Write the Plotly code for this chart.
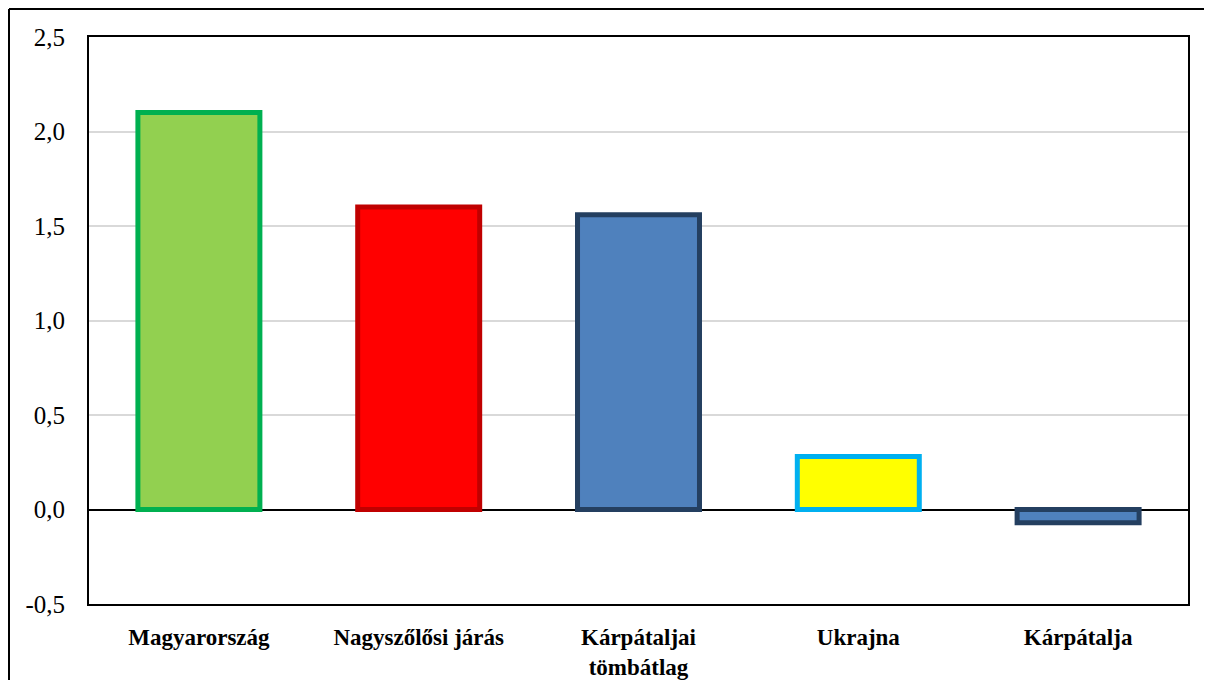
import plotly.graph_objects as go

categories = ["Magyarország", "Nagyszőlősi járás", "Kárpátaljai<br>tömbátlag", "Ukrajna", "Kárpátalja"]
values = [2.1, 1.6, 1.56, 0.28, -0.07]
fill_colors = ["#92D050", "#FF0000", "#4F81BD", "#FFFF00", "#4F81BD"]
line_colors = ["#00B050", "#C00000", "#243F60", "#00B0F0", "#243F60"]
tick_vals = [-0.5, 0.0, 0.5, 1.0, 1.5, 2.0, 2.5]
tick_text = ["-0,5", "0,0", "0,5", "1,0", "1,5", "2,0", "2,5"]

SERIF = "Times New Roman, Liberation Serif, DejaVu Serif, serif"

fig = go.Figure(go.Bar(
    x=categories, y=values,
    marker=dict(color=fill_colors, line=dict(color=line_colors, width=5)),
    width=0.555,
))

# page is offset by ~7px (body margin); compensate
OFF = 7
L, R, T, B = 88 - OFF, 25 + OFF, 36 - OFF, 77 + OFF
W, H = 1212, 680
pw, ph = W - L - R, H - T - B

fig.update_layout(
    width=W, height=H,
    margin=dict(l=L, r=R, t=T, b=B, autoexpand=False),
    paper_bgcolor="white", plot_bgcolor="white",
    showlegend=False,
    font=dict(family=SERIF, color="black"),
    xaxis=dict(
        showline=True, linecolor="black", linewidth=2, mirror=True,
        tickfont=dict(size=23, family=SERIF, color="black", weight="bold"),
        ticks="", ticklabelstandoff=11, showgrid=False, automargin=False,
    ),
    yaxis=dict(
        range=[-0.5, 2.5], tickvals=tick_vals, ticktext=tick_text,
        showline=True, linecolor="black", linewidth=2, mirror=True,
        showgrid=True, gridcolor="#D9D9D9", gridwidth=1.5,
        zeroline=True, zerolinecolor="black", zerolinewidth=1.5,
        tickfont=dict(size=25, family=SERIF, color="black"),
        ticks="", ticklabelstandoff=17, automargin=False,
    ),
)

# outer frame (top and left edges visible in the reference)
x_left = (1 - L) / pw
y_top = 1 + (T - 1) / ph
fig.add_shape(type="line", xref="paper", yref="paper", x0=x_left, x1=x_left,
              y0=-(B - 1) / ph, y1=y_top, line=dict(color="black", width=2))
fig.add_shape(type="line", xref="paper", yref="paper", x0=x_left, x1=1 + (R - 1) / pw,
              y0=y_top, y1=y_top, line=dict(color="black", width=2))

fig.write_html("out.html")
